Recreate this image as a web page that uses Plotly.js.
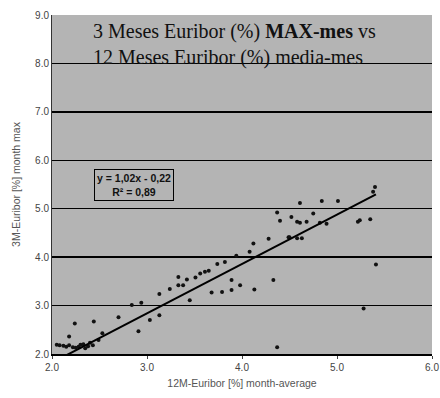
<!DOCTYPE html>
<html>
<head>
<meta charset="utf-8">
<script src="https://cdn.plot.ly/plotly-3.0.1.min.js"></script>
<style>html,body{margin:0;padding:0;background:#fff;}#chart{width:440px;height:398px;}</style>
</head>
<body>
<div id="chart"></div>
<script>
// 12M Euribor month-average (%)
var euribor12mAvg = [2.05,2.08,2.12,2.15,2.18,2.22,2.25,2.28,2.30,2.33,2.35,2.38,2.40,2.43,
  2.18,2.24,2.44,2.49,2.53,2.70,2.84,2.91,2.94,3.03,3.13,3.13,
  3.24,3.33,3.33,3.38,3.42,3.45,3.51,3.56,3.61,3.65,3.68,3.74,3.79,3.82,3.89,3.89,3.94,3.98,
  4.08,4.12,4.13,4.28,4.33,4.37,4.37,4.40,4.49,4.50,4.52,4.58,4.58,4.61,4.61,4.63,4.68,4.75,4.82,4.84,4.89,
  5.01,5.22,5.24,5.28,5.35,5.38,5.40,5.41];
// 3M Euribor month max (%)
var euribor3mMax = [2.19,2.18,2.17,2.15,2.18,2.14,2.13,2.15,2.19,2.20,2.12,2.16,2.23,2.18,
  2.36,2.63,2.67,2.29,2.43,2.76,3.01,2.47,3.06,2.70,3.24,2.80,
  3.34,3.59,3.42,3.42,3.54,3.11,3.58,3.66,3.70,3.72,3.27,3.86,3.28,3.90,3.32,3.53,4.03,3.42,
  4.11,4.28,3.33,4.38,3.53,4.92,2.14,4.75,4.41,4.41,4.83,4.73,4.39,4.71,5.12,4.39,4.73,4.90,4.71,5.16,4.69,
  5.16,4.73,4.76,2.94,4.78,5.35,5.45,3.85];
// linear trend coefficients shown in the chart
var trendSlope = [1.02];
var trendIntercept = [-0.22];
var trendR2 = [0.89];
var xTicks = [2,3,4,5,6];
var xTickLabels = ['2.0','3.0','4.0','5.0','6.0'];
var yTicks = [2,3,4,5,6,7,8,9];
var yTickLabels = ['2.0','3.0','4.0','5.0','6.0','7.0','8.0','9.0'];
var titleLines = ['3 Meses Euribor (%) <b>MAX-mes</b> vs', '12 Meses Euribor (%) media-mes'];
var xTitle = '12M-Euribor [%] month-average';
var yTitle = '3M-Euribor [%] month max';

var xMin = Math.min.apply(null, euribor12mAvg);
var xMax = Math.max.apply(null, euribor12mAvg);
var trendX = [xMin, xMax];
var trendY = trendX.map(function(v){ return trendSlope[0]*v + trendIntercept[0]; });

function fmt(v){ return Math.abs(v).toFixed(2).replace('.', ','); }
var eqText = 'y = ' + fmt(trendSlope[0]) + 'x ' + (trendIntercept[0] < 0 ? '- ' : '+ ') + fmt(trendIntercept[0]) +
  '<br>R² = ' + fmt(trendR2[0]);

var data = [
  {x: euribor12mAvg, y: euribor3mMax, type: 'scatter', mode: 'markers',
   marker: {color: '#111', size: 4}, cliponaxis: true, hoverinfo: 'none'},
  {x: trendX, y: trendY, type: 'scatter', mode: 'lines',
   line: {color: '#000', width: 2}, hoverinfo: 'none'}
];

var layout = {
  width: 440, height: 398,
  margin: {l: 52, r: 8, t: 15, b: 44},
  paper_bgcolor: '#ffffff',
  plot_bgcolor: '#b4b4b4',
  showlegend: false,
  font: {family: 'Liberation Sans, Arial, sans-serif', color: '#333'},
  xaxis: {
    range: [2, 6], tickvals: xTicks, ticktext: xTickLabels,
    showgrid: false, zeroline: false,
    showline: true, linecolor: '#000', linewidth: 1.5,
    ticks: 'outside', ticklen: 3, tickcolor: '#444',
    tickfont: {size: 10, color: '#444'},
    title: {text: xTitle, font: {size: 10.5, color: '#555'}, standoff: 8}
  },
  yaxis: {
    range: [2, 9], tickvals: yTicks, ticktext: yTickLabels,
    showgrid: true, gridcolor: '#000', gridwidth: 1.5,
    zeroline: false,
    showline: true, linecolor: '#333', linewidth: 1,
    ticks: '', tickfont: {size: 10, color: '#444'},
    title: {text: yTitle, font: {size: 10.5, color: '#555'}, standoff: 12}
  },
  annotations: [
    {xref: 'paper', yref: 'paper', x: 0.102, y: 0.99, xanchor: 'left', yanchor: 'top',
     align: 'left', showarrow: false,
     text: titleLines.join('<br>'),
     font: {family: 'Liberation Serif, Times New Roman, serif', size: 20, color: '#111'}},
    {xref: 'x', yref: 'y', x: 2.44, y: 5.50, xanchor: 'left', yanchor: 'middle',
     align: 'center', showarrow: false, text: eqText,
     bordercolor: '#000', borderwidth: 1, borderpad: 2,
     font: {family: 'Liberation Sans, Arial, sans-serif', size: 10.5, color: '#111', weight: 'bold'}}
  ]
};

Plotly.newPlot('chart', data, layout, {staticPlot: true, displayModeBar: false});
</script>
</body>
</html>
